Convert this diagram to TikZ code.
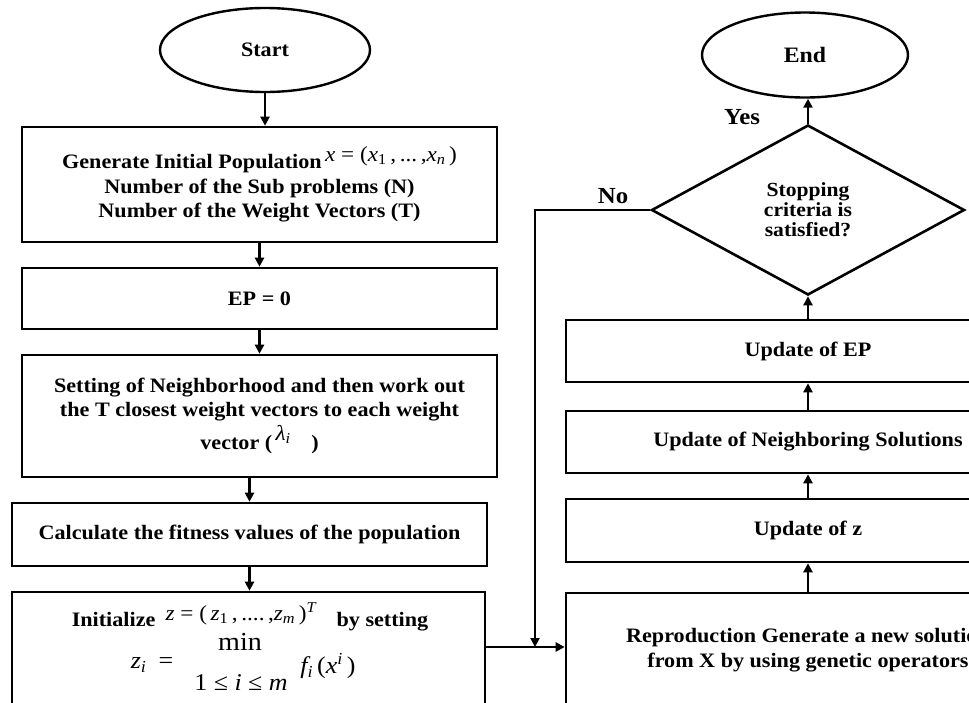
\documentclass[tikz,border=0pt]{standalone}
\usepackage{fontspec}
\setmainfont{Liberation Serif}[FakeStretch=1.08]
\usetikzlibrary{shapes.geometric,arrows.meta}

\newcommand\boxfont{\fontsize{20.5}{24.5}\selectfont\bfseries}
\newcommand\formfont{\fontsize{21.5}{21.5}\selectfont\mdseries}
% italic variable in formulas set with the text face
\newcommand\mv[1]{{\itshape #1}}

\begin{document}
\begin{tikzpicture}[x=1pt,y=-1pt,
  every node/.style={font=\boxfont},
  procbox/.style={draw, rectangle, line width=2.6pt, inner sep=0pt, align=center},
  terminal/.style={draw, ellipse, line width=2.4pt, inner sep=0pt},
  decision/.style={draw, diamond, line width=2.6pt, inner sep=0pt, align=center,
    minimum width=313pt, minimum height=170pt, font=\fontsize{20}{20}\selectfont\bfseries},
  formula/.style={font=\formfont, inner sep=0pt},
  flow/.style={line width=2.2pt, -{Triangle[length=9pt,width=9pt]}},
  lbl/.style={font=\fontsize{23}{23}\selectfont\bfseries, inner sep=0pt},
  ]
\clip (0,0) rectangle (969,702);

% ---- left column: initialisation ----
\node[terminal, minimum width=210pt, minimum height=84pt] (start) at (265,50) {Start};

\node[procbox, minimum width=475pt, minimum height=115pt] (b1) at (259.5,184.5)
  {\rule{0pt}{14pt}Generate Initial Population\,\raisebox{7pt}{\formfont\mv{x} = (\mv{x}\textsubscript{1}\,,\,...\,,\mv{x}\textsubscript{\mv{n}}\,)}\\
   Number of the Sub problems (N)\\
   Number of the Weight Vectors (T)};

\node[procbox, minimum width=475pt, minimum height=61pt] (b2) at (259.5,298.5) {EP = 0};

\node[procbox, minimum width=475pt, minimum height=122pt] (b3) at (259.5,416)
  {Setting of Neighborhood and then work out\\
   the T closest weight vectors to each weight\\[3pt]
   vector (\,\raisebox{9pt}{\formfont\mv{λ}\textsubscript{\mv{i}}}\quad)};

\node[procbox, minimum width=475pt, minimum height=63pt] (b4) at (249.5,534.5)
  {Calculate the fitness values of the population};

\node[procbox, minimum width=473pt, minimum height=113pt] (b5) at (248.5,648.5) {};
\node (initz) at (250,617)
  {Initialize\enspace\raisebox{6pt}{\formfont\mv{z} = (\,\mv{z}\textsubscript{1}\,,\,....\,,\mv{z}\textsubscript{\mv{m}}\,)\textsuperscript{\mv{T}}}\quad by setting};
\node[formula, font=\fontsize{26}{26}\selectfont] (mn) at (240,642) {min};
\node[formula, font=\fontsize{24}{24}\selectfont] (zi) at (152,665) {\mv{z}\textsubscript{\mv{i}}\enspace =};
\node[formula, font=\fontsize{24}{24}\selectfont] (rng) at (241,683) {1 ≤ \mv{i} ≤ \mv{m}};
\node[formula, font=\fontsize{24}{24}\selectfont] (fi) at (328,666) {\mv{f}\textsubscript{\mv{i}}\,(\mv{x}\textsuperscript{\mv{i}}\,)};

% ---- right column: main loop ----
\node[terminal, minimum width=206pt, minimum height=85pt,
      font=\fontsize{22}{22}\selectfont\bfseries] (end) at (805,55) {End};

\node[decision] (dia) at (808,210) {Stopping\\criteria is\\satisfied?};

\node[procbox, minimum width=484pt, minimum height=62pt] (ep) at (808,351) {Update of EP};
\node[procbox, minimum width=484pt, minimum height=62pt] (nb) at (808,442) {Update of Neighboring Solutions};
\node[procbox, minimum width=484pt, minimum height=63pt] (uz) at (808,530.5) {Update of z};
\node[procbox, minimum width=484pt, minimum height=114pt] (rep) at (808,650)
  {Reproduction Generate a new solution\\from X by using genetic operators};

\coordinate (j) at (535,647);

% ---- connectors ----
\draw[flow] (start.south) -- (start.south |- b1.north);
\draw[flow] (b1.south) -- (b2.north);
\draw[flow] (b2.south) -- (b3.north);
\draw[flow] (b4.north |- b3.south) -- (b4.north);
\draw[flow] (b4.south) -- (b4.south |- b5.north);
\draw[flow] (b5.east |- j) -- (rep.west |- j);
\draw[flow] (dia.west) -| (j);
\draw[flow] (rep.north) -- (uz.south);
\draw[flow] (uz.north) -- (nb.south);
\draw[flow] (nb.north) -- (ep.south);
\draw[flow] (ep.north) -- (dia.south);
\draw[flow] (dia.north) -- (dia.north |- end.south);

\node[lbl] (no) at (613,196) {No};
\node[lbl] (yes) at (742,117) {Yes};
\end{tikzpicture}
\end{document}
